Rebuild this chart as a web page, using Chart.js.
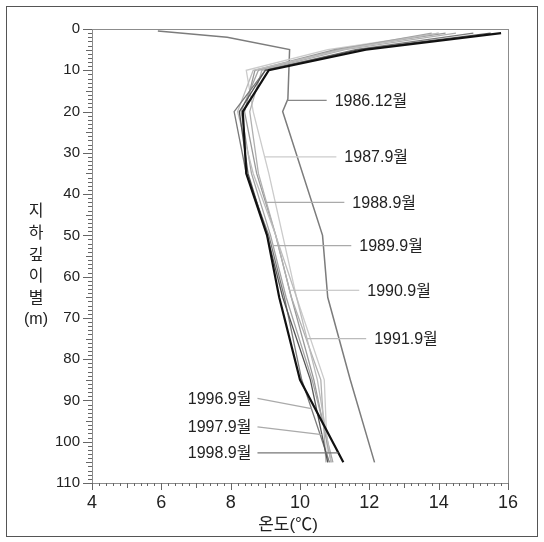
<!DOCTYPE html>
<html><head><meta charset="utf-8">
<script src="https://cdn.jsdelivr.net/npm/chart.js@4.4.0/dist/chart.umd.min.js"></script>
<style>
html,body{margin:0;padding:0;background:#fff;}
#wrap{position:relative;width:544px;height:542px;}
#frame{position:absolute;left:6px;top:6px;width:532px;height:531px;border:1px solid #555;box-sizing:border-box;pointer-events:none;}
canvas{position:absolute;left:0;top:0;}
</style></head><body>
<div id="wrap"><canvas id="c" width="544" height="542"></canvas><div id="frame"></div></div>
<script>
// ---- data (depth in m, temperature in °C) ----
const depths = [1, 5, 10, 20, 35, 50, 65, 85, 105];
const depths1986 = [0.5, 2, 5, 17, 20, 50, 65, 85, 105];
const temp1986 = [5.9, 7.9, 9.7, 9.65, 9.5, 10.65, 10.8, 11.45, 12.15];
const temp1987 = [14.0, 10.8, 8.45, 8.65, 9.1, 9.5, 9.9, 10.7, 10.8];
const temp1988 = [14.2, 11.0, 8.7, 8.4, 8.75, 9.3, 9.75, 10.4, 10.9];
const temp1989 = [13.8, 11.1, 8.8, 8.3, 8.6, 9.15, 9.6, 10.35, 10.95];
const temp1990 = [14.5, 11.3, 8.9, 8.55, 8.8, 9.3, 9.75, 10.6, 10.75];
const temp1991 = [14.0, 11.2, 8.65, 8.2, 8.65, 9.3, 9.9, 10.5, 10.9];
const temp1996 = [15.0, 11.6, 9.0, 8.1, 8.45, 9.1, 9.55, 10.05, 10.85];
const temp1997 = [15.5, 11.7, 9.0, 8.25, 8.5, 9.05, 9.5, 10.3, 10.8];
const temp1998 = [15.8, 11.9, 9.1, 8.35, 8.45, 9.05, 9.4, 10.0, 11.25];
const seriesNames = ['1998.9월','1997.9월','1996.9월','1991.9월','1990.9월','1989.9월','1988.9월','1987.9월','1986.12월'];
const xTickValues = [4, 6, 8, 10, 12, 14, 16];
const yTickValues = [0, 10, 20, 30, 40, 50, 60, 70, 80, 90, 100, 110];
// label annotation: depth of leader line, temperature where text starts (right side) or ends (left side)
const labelDepths = [102.7, 96.4, 89.5, 75, 63.3, 52.5, 42, 31, 17.3];
const labelTextTemps = [8.6, 8.6, 8.6, 12.14, 11.94, 11.71, 11.51, 11.28, 11.0];
const labelSide = ['L','L','L','R','R','R','R','R','R'];
const labelAnchorDepths = [102.7, 98.3, 92, 75, 63.3, 52.5, 42, 31, 17.3];

const seriesDepths = [depths, depths, depths, depths, depths, depths, depths, depths, depths1986];
const seriesTemps = [temp1998, temp1997, temp1996, temp1991, temp1990, temp1989, temp1988, temp1987, temp1986];
const colors = ['#111111','#555555','#7a7a7a','#bcbcbc','#b0b0b0','#a4a4a4','#999999','#cbcbcb','#7c7c7c'];
const widths = [2.2, 1.3, 1.3, 1.3, 1.3, 1.3, 1.3, 1.3, 1.5];
const leaderColors = ['#777','#aaa','#aaa','#bbb','#bbb','#aaa','#aaa','#ccc','#888'];

const FONT = '"Liberation Sans", Arial, "Noto Sans CJK KR", sans-serif';

function tempAt(i, d){
  const D = seriesDepths[i], T = seriesTemps[i];
  for(let k=0;k<D.length-1;k++){
    if(d>=D[k] && d<=D[k+1]){ const f=(d-D[k])/(D[k+1]-D[k]); return T[k]+f*(T[k+1]-T[k]); }
  }
  return T[T.length-1];
}

const datasets = seriesNames.map((n,i)=>({
  label:n,
  data: seriesDepths[i].map((d,k)=>({x:seriesTemps[i][k], y:d})),
  borderColor:colors[i], borderWidth:widths[i], pointRadius:0, tension:0, fill:false
}));

const deco = {
  id:'deco',
  afterDraw(chart){
    const {ctx, chartArea:a, scales:{x,y}} = chart;
    ctx.save();
    ctx.strokeStyle='#8c8c8c'; ctx.lineWidth=1;
    ctx.strokeRect(Math.round(a.left)+0.5, Math.round(a.top)+0.5, Math.round(a.right-a.left), Math.round(a.bottom-a.top));
    ctx.strokeStyle='#666';
    ctx.beginPath();
    for(let k=0;k<=60;k++){
      const px=Math.round(x.getPixelForValue(4+k*0.2))+0.5;
      const len = k%10===0?7:(k%5===0?5:3);
      ctx.moveTo(px,Math.round(a.bottom)); ctx.lineTo(px,Math.round(a.bottom)+len);
    }
    for(let k=0;k<=110;k++){
      const py=Math.round(y.getPixelForValue(k))+0.5;
      const len = k%10===0?9:(k%5===0?6:4);
      ctx.moveTo(Math.round(a.left),py); ctx.lineTo(Math.round(a.left)-len,py);
    }
    ctx.stroke();
    // axis titles
    ctx.fillStyle='#222';
    ctx.font='17px '+FONT; ctx.textAlign='center'; ctx.textBaseline='middle';
    ctx.fillText('온도(℃)', 288, 525);
    ctx.font='16px '+FONT;
    const yt=['지','하','깊','이','별','(m)'];
    yt.forEach((s,i)=>ctx.fillText(s, 36, 212+i*21.6));
    // series labels with leader lines
    ctx.font='16px '+FONT; ctx.textBaseline='middle';
    seriesNames.forEach((n,i)=>{
      const ax = x.getPixelForValue(tempAt(i,labelAnchorDepths[i]));
      const ay = y.getPixelForValue(labelAnchorDepths[i]);
      const ty = y.getPixelForValue(labelDepths[i]);
      const tx = x.getPixelForValue(labelTextTemps[i]);
      ctx.strokeStyle=leaderColors[i]; ctx.lineWidth=1.2;
      ctx.beginPath();
      if(labelSide[i]==='R'){
        ctx.moveTo(ax,ay); ctx.lineTo(tx-8,ty);
        ctx.stroke();
        ctx.textAlign='left'; ctx.fillStyle='#222'; ctx.fillText(n, tx, ty+1);
      } else {
        ctx.moveTo(tx+6,ty); ctx.lineTo(ax,ay);
        ctx.stroke();
        ctx.textAlign='right'; ctx.fillStyle='#222'; ctx.fillText(n, tx, ty+1);
      }
    });
    ctx.restore();
  }
};

new Chart(document.getElementById('c'), {
  type:'line',
  data:{datasets},
  options:{
    responsive:false, animation:false, devicePixelRatio:1,
    layout:{padding:{left:0,right:36,top:29,bottom:0}},
    plugins:{legend:{display:false}, tooltip:{enabled:false}},
    scales:{
      x:{type:'linear', min:4, max:16,
        afterBuildTicks:s=>{s.ticks=xTickValues.map(v=>({value:v}));},
        ticks:{color:'#222', font:{size:18, family:FONT}, padding:9, maxRotation:0},
        grid:{display:false, drawTicks:false}, border:{display:false},
        afterFit:s=>{s.height=59;}},
      y:{type:'linear', min:0, max:110, reverse:true,
        afterBuildTicks:s=>{s.ticks=yTickValues.map(v=>({value:v}));},
        ticks:{color:'#222', font:{size:15, family:FONT}, padding:12},
        grid:{display:false, drawTicks:false}, border:{display:false},
        afterFit:s=>{s.width=92;}}
    }
  },
  plugins:[deco]
});
</script>
</body></html>
